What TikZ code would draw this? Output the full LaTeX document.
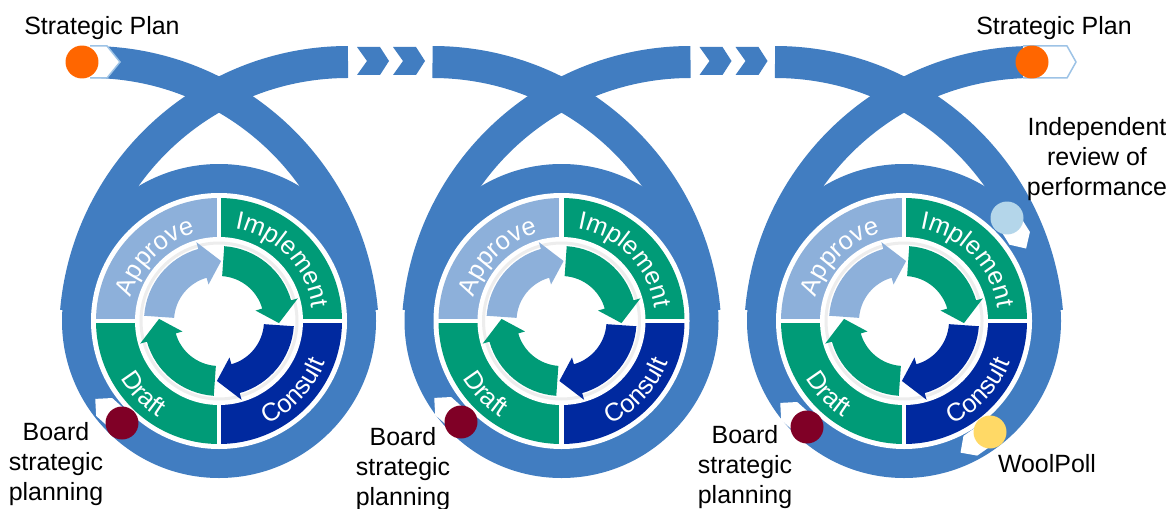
\documentclass[tikz,border=0pt]{standalone}
\usepackage{fontspec}
\setmainfont{Liberation Sans}
\usepackage{tikz}
\usetikzlibrary{decorations.text,positioning}
\definecolor{schleifenblau}{HTML}{417DC1}
\definecolor{hellblau}{HTML}{8DB0DA}
\definecolor{zyklusgruen}{HTML}{009B77}
\definecolor{dunkelblau}{HTML}{00299F}
\definecolor{planorange}{HTML}{FF6600}
\definecolor{boardrot}{HTML}{800026}
\definecolor{reviewblau}{HTML}{B4D6EA}
\definecolor{pollgelb}{HTML}{FFD966}
\definecolor{randblau}{HTML}{9DC3E6}
\newcommand\segmentschrift{\fontsize{14.5}{14.5}\selectfont}

\begin{document}
\begin{tikzpicture}[x=0.02cm,y=0.02cm,
  band/.style={draw=schleifenblau,line width=0.64cm},
  beschriftung/.style={font=\fontsize{14.2}{17.1}\selectfont,align=center,inner sep=0pt},
  punkt/.style={circle,inner sep=0pt,minimum size=0.66cm},
  segtext/.style={decorate,decoration={text along path,text align=center,text color=white,text={|\segmentschrift|#1}}}]
\path[fill=white,use as bounding box] (0,0) rectangle (1172,508);
%Alle Masse in Pixeln, Schleifenmitten bei x=219, 561.5, 904
\foreach \cx in {219,561.5,904}{
  \fill[schleifenblau] (\cx,187) circle[radius=157];
  \draw[band] (\cx-129,446) arc[start angle=90,end angle=5,radius=273];
  \draw[band] (\cx+129,446) arc[start angle=90,end angle=175,radius=273];
  \begin{scope}[shift={(\cx,187)}]
    \fill[white] (0,0) circle[radius=128];
    \fill[hellblau] (0,0) -- (180:123) arc[start angle=180,end angle=90,radius=123] -- cycle;
    \fill[zyklusgruen] (0,0) -- (90:123) arc[start angle=90,end angle=0,radius=123] -- cycle;
    \fill[dunkelblau] (0,0) -- (0:123) arc[start angle=0,end angle=-90,radius=123] -- cycle;
    \fill[zyklusgruen] (0,0) -- (-90:123) arc[start angle=-90,end angle=-180,radius=123] -- cycle;
    \draw[white,line width=0.09cm] (-125,0) -- (125,0) (0,-125) -- (0,125);
    \fill[white] (0,0) circle[radius=84];
    \draw[black!7,line width=0.06cm] (0,0) circle[radius=78];
    %innere Pfeile, \T = Winkel am Pfeilende
    \foreach \T/\farbe in {176/hellblau,86/zyklusgruen,-4/dunkelblau,266/zyklusgruen}{
      \fill[\farbe] (\T:75) arc[start angle=\T,end angle=\T-70,radius=75] -- (\T-70:82) -- (\T-88:60)
        -- (\T-70:38) -- (\T-70:45) arc[start angle=\T-70,end angle=\T,radius=45] -- cycle;
    }
    \path[segtext=Approve] (178:91) arc[start angle=178,end angle=92,radius=91];
    \path[segtext=Implement] (102:94) arc[start angle=102,end angle=-14,radius=94];
    \path[segtext=Consult] (-102:114) arc[start angle=-102,end angle=16,radius=114];
    \path[segtext=Draft] (178:114) arc[start angle=178,end angle=270,radius=114];
  \end{scope}
}
%Pfeile zwischen den Schleifen
\foreach \e in {348,690.5}{
  \foreach \d in {9,45}{
    \fill[schleifenblau] (\e+\d,461) -- ++(23,0) -- ++(9,-14) -- ++(-9,-14) -- ++(-23,0) -- ++(10,14) -- cycle;
  }
}
%Anfang und Ende
\fill[white] (84,462) -- (107,462) -- (120,446) -- (107,430) -- (84,430) -- cycle;
\draw[randblau,line width=0.03cm] (90,462) -- (107,462) -- (120,446) -- (107,430) -- (90,430);
\fill[white] (1023,462) -- (1067,462) -- (1076,446) -- (1067,430) -- (1023,430) -- cycle;
\draw[randblau,line width=0.03cm] (1023,462) -- (1067,462) -- (1076,446) -- (1067,430) -- (1023,430);
%Marken auf dem Band
\foreach \mx/\my/\w in {122/85/138,461/86/138,807/81/138,1007/290/-58,990/76/215}{
  \fill[white,shift={(\mx,\my)},rotate=\w] (-4,-12) -- (24,-12) -- (36,0) -- (24,12) -- (-4,12) -- cycle;
}
\node[punkt,fill=planorange] (start) at (82,446) {};
\node[punkt,fill=planorange] (ende) at (1032,446) {};
\node[punkt,fill=boardrot] (boardA) at (122,85) {};
\node[punkt,fill=boardrot] (boardB) at (461,86) {};
\node[punkt,fill=boardrot] (boardC) at (807,81) {};
\node[punkt,fill=reviewblau] (review) at (1007,290) {};
\node[punkt,fill=pollgelb] (poll) at (990,76) {};
%Texte
\node[beschriftung] (planA) at (102,480) {Strategic Plan};
\node[beschriftung] (planB) at (1054,480) {Strategic Plan};
\node[beschriftung] (reviewtext) at (1097,349) {Independent\\review of\\performance};
\node[beschriftung] (polltext) at (1047,44) {WoolPoll};
\node[beschriftung] (boardtextA) at (56,44) {Board\\strategic\\planning};
\node[beschriftung] (boardtextB) at (403,39) {Board\\strategic\\planning};
\node[beschriftung] (boardtextC) at (745,41) {Board\\strategic\\planning};
\end{tikzpicture}
\end{document}
